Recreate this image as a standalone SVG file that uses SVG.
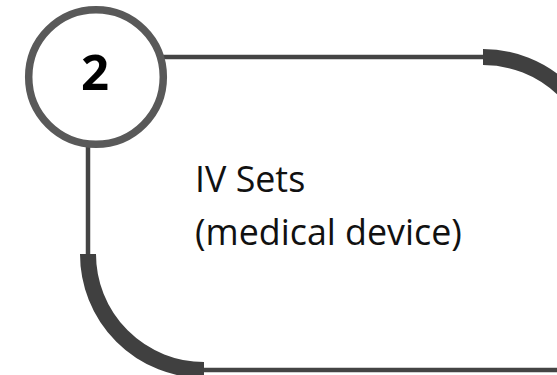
<svg xmlns="http://www.w3.org/2000/svg" width="557" height="375" viewBox="0 0 557 375">
  <style>
    .thin { fill: none; stroke: #444444; stroke-width: 4.5; }
    .thick { fill: none; stroke: #404040; stroke-width: 16; stroke-linecap: butt; }
    .ring { fill: #ffffff; stroke: #595959; stroke-width: 7.5; }
    .num { font-family: "Open Sans", "Noto Sans", sans-serif; font-weight: bold; font-size: 49px; fill: #000000; }
    .label { font-family: "Open Sans", "Noto Sans", sans-serif; font-size: 35.8px; fill: #111111; }
  </style>
  <rect width="557" height="375" fill="#ffffff"/>
  <g id="connectors">
    <line class="thin" x1="160" y1="57" x2="484" y2="57"/>
    <line class="thin" x1="88" y1="140" x2="88" y2="255"/>
    <line class="thin" x1="203" y1="370" x2="557" y2="370"/>
    <path class="thick" d="M 483 57 A 116 116 0 0 1 599 173"/>
    <path class="thick" d="M 88 254 A 116 116 0 0 0 204 370"/>
  </g>
  <g id="node-2">
    <circle class="ring" cx="96" cy="77" r="67.3"/>
    <text class="num" x="95" y="90" text-anchor="middle">2</text>
  </g>
  <g id="label">
    <text class="label" x="195" y="192">IV Sets</text>
    <text class="label" x="195" y="245">(medical device)</text>
  </g>
</svg>
